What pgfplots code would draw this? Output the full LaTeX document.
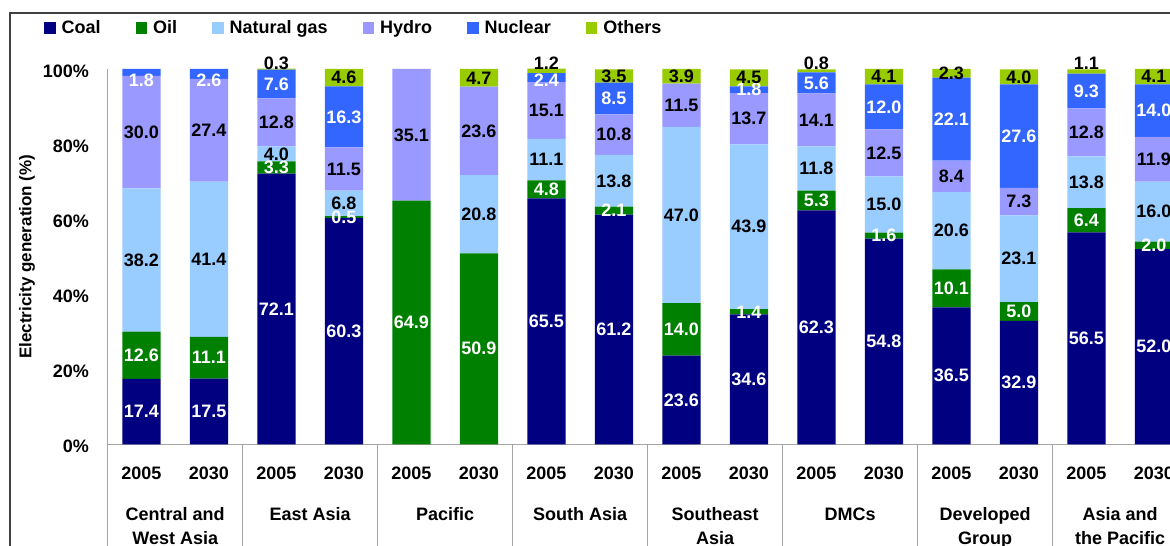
\documentclass[border=0pt]{standalone}
\usepackage{pgfplots}
\pgfplotsset{compat=1.18}
\usepackage{pgfplotstable}
\usepackage{fontspec}
\setmainfont{Liberation Sans}
\definecolor{coal}{RGB}{0,0,128}
\definecolor{oil}{RGB}{0,128,0}
\definecolor{gas}{RGB}{153,204,255}
\definecolor{hydro}{RGB}{153,153,255}
\definecolor{nuclear}{RGB}{51,102,255}
\definecolor{others}{RGB}{153,204,0}
\definecolor{axgray}{RGB}{165,165,165}
\definecolor{framegray}{RGB}{64,64,64}
\newcommand\lf{\bfseries\fontsize{18}{24}\selectfont}

\pgfplotstableread{
x coal oil gas hydro nuclear others
0 17.4 12.6 38.2 30.0 1.8 0
1 17.5 11.1 41.4 27.4 2.6 0
2 72.1 3.3 4.0 12.8 7.6 0.3
3 60.3 0.5 6.8 11.5 16.3 4.6
4 0 64.9 0 35.1 0 0
5 0 50.9 20.8 23.6 0 4.7
6 65.5 4.8 11.1 15.1 2.4 1.2
7 61.2 2.1 13.8 10.8 8.5 3.5
8 23.6 14.0 47.0 11.5 0 3.9
9 34.6 1.4 43.9 13.7 1.8 4.5
10 62.3 5.3 11.8 14.1 5.6 0.8
11 54.8 1.6 15.0 12.5 12.0 4.1
12 36.5 10.1 20.6 8.4 22.1 2.3
13 32.9 5.0 23.1 7.3 27.6 4.0
14 56.5 6.4 13.8 12.8 9.3 1.1
15 52.0 2.0 16.0 11.9 14.0 4.1
}\datatable

\pgfplotsset{
  common/.style={
    at={(107.7pt,101.7pt)}, anchor=south west,
    scale only axis, width=1062.3pt, height=375.3pt,
    xmin=-0.5, xmax=15.238, ymin=0, ymax=100,
  },
  lab/.style={draw=none, mark=none,
    every node near coord/.append style={#1}},
}

\begin{document}
\begin{tikzpicture}[x=1pt,y=1pt]
\useasboundingbox (0,0) rectangle (1170,546);
\clip (0,0) rectangle (1170,546);
\fill[white] (0,0) rectangle (1170,546);
\draw[framegray, line width=2pt] (9.5,-10) -- (9.5,532.7) -- (1200,532.7);

\begin{axis}[common,
  ybar stacked, bar width=38.3pt,
  axis x line*=bottom, axis y line*=left,
  axis line style={axgray, line width=1pt, -},
  xtick={0,...,15},
  xticklabels={2005,2030,2005,2030,2005,2030,2005,2030,2005,2030,2005,2030,2005,2030,2005,2030},
  ytick={0,20,...,100},
  yticklabels={0\%,20\%,40\%,60\%,80\%,100\%},
  major tick length=0pt,
  minor xtick={-0.5,1.5,...,13.5},
  minor tick length=120pt,
  xtick align=outside,
  minor tick style={axgray, line width=1pt},
  tick label style={font=\lf},
  xticklabel style={anchor=base, yshift=-35.1pt},
  yticklabel style={anchor=east, inner sep=0pt, xshift=-18.7pt, yshift=-2pt},
  extra x ticks={0.5,2.5,...,14.5},
  extra x tick labels={{Central and\\West Asia},{East Asia\\\mbox{}},{Pacific\\\mbox{}},{South Asia\\\mbox{}},{Southeast\\Asia},{DMCs\\\mbox{}},{Developed\\Group},{Asia and\\the Pacific}},
  extra x tick style={major tick length=0pt, tick label style={align=center, anchor=base, yshift=-65pt}},
  ylabel={Electricity generation (\%)},
  ylabel style={at={(axis description cs:-0.076,0.5)}, anchor=center, font=\bfseries\fontsize{17}{17}\selectfont},
  legend columns=6,
  legend style={draw=none, fill=none, at={(axis description cs:-0.05996,1.1093)}, anchor=west,
    font=\lf, inner sep=0pt, nodes={inner sep=0pt, inner xsep=6pt},
    /tikz/every even column/.append style={column sep=29pt}},
  legend image code/.code={\fill[#1] (0pt,-5.75pt) rectangle (11.5pt,5.75pt);},
]
\addplot[fill=coal, draw=none] table[x=x,y=coal]{\datatable};
\addlegendentry{Coal}
\addplot[fill=oil, draw=none] table[x=x,y=oil]{\datatable};
\addlegendentry{Oil}
\addplot[fill=gas, draw=none] table[x=x,y=gas]{\datatable};
\addlegendentry{Natural gas}
\addplot[fill=hydro, draw=none] table[x=x,y=hydro]{\datatable};
\addlegendentry{Hydro}
\addplot[fill=nuclear, draw=none] table[x=x,y=nuclear]{\datatable};
\addlegendentry{Nuclear}
\addplot[fill=others, draw=none] table[x=x,y=others]{\datatable};
\addlegendentry{Others}
\end{axis}

\begin{axis}[common, hide axis, clip=false, point meta=explicit,
  nodes near coords={\pgfmathprintnumber[fixed,fixed zerofill,precision=1,assume math mode=true]{\pgfplotspointmeta}},
  every node near coord/.append style={anchor=center, font=\lf, inner sep=0pt},
]
\addplot[lab=white, restrict expr to domain={\thisrow{coal}}{0.05:1000}]
  table[x=x, y expr={\thisrow{coal}/2}, meta=coal]{\datatable};
\addplot[lab=white, restrict expr to domain={\thisrow{oil}}{0.05:1000}]
  table[x=x, y expr={\thisrow{coal}+\thisrow{oil}/2}, meta=oil]{\datatable};
\addplot[lab=black, restrict expr to domain={\thisrow{gas}}{0.05:1000}]
  table[x=x, y expr={\thisrow{coal}+\thisrow{oil}+\thisrow{gas}/2}, meta=gas]{\datatable};
\addplot[lab=black, restrict expr to domain={\thisrow{hydro}}{0.05:1000}]
  table[x=x, y expr={\thisrow{coal}+\thisrow{oil}+\thisrow{gas}+\thisrow{hydro}/2}, meta=hydro]{\datatable};
\addplot[lab=white, restrict expr to domain={\thisrow{nuclear}}{0.05:1000}]
  table[x=x, y expr={min(\thisrow{coal}+\thisrow{oil}+\thisrow{gas}+\thisrow{hydro}+\thisrow{nuclear}/2,97)}, meta=nuclear]{\datatable};
\addplot[lab=black, restrict expr to domain={\thisrow{others}}{0.05:1000}]
  table[x=x, y expr={ifthenelse(\thisrow{others}<1.5,101.6,\thisrow{coal}+\thisrow{oil}+\thisrow{gas}+\thisrow{hydro}+\thisrow{nuclear}+\thisrow{others}/2)}, meta=others]{\datatable};
\end{axis}
\end{tikzpicture}
\end{document}
